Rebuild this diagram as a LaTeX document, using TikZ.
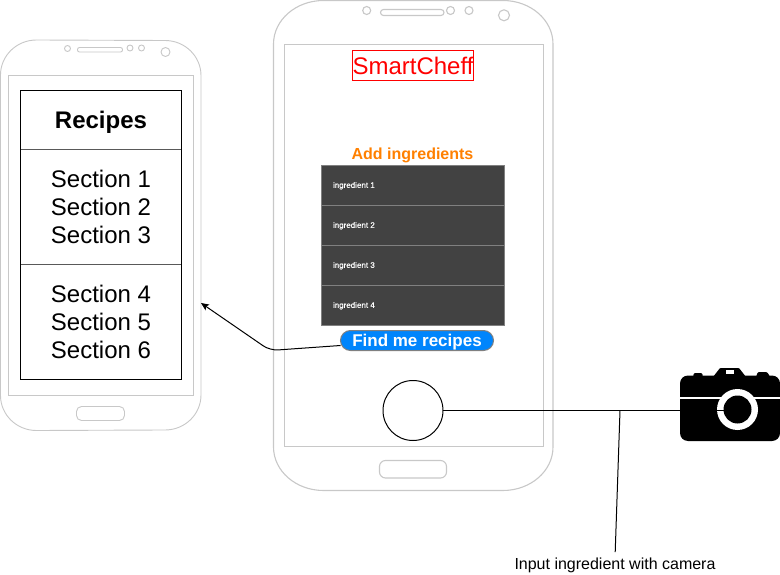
\documentclass[tikz,border=0pt]{standalone}
\usepackage{fontspec}
\setmainfont{Liberation Sans}
\newfontfamily\itemfont[FakeBold=0.6]{Liberation Sans}
\usetikzlibrary{arrows.meta}
\definecolor{phonegray}{HTML}{C8C8C8}
\definecolor{listdark}{HTML}{424242}
\definecolor{listline}{HTML}{808080}
\definecolor{btnblue}{HTML}{0085FC}
\definecolor{addorange}{HTML}{FF8000}
\tikzset{
  x=1pt,y=-1pt,
  phone/.style={draw=phonegray,line width=1.1pt,fill=white},
  phonethin/.style={draw=phonegray,line width=.9pt,fill=white},
  plain/.style={inner sep=0pt,outer sep=0pt,anchor=center},
  box/.style={plain,draw,rectangle},
  itemrow/.style={plain,rectangle,draw=listline,fill=listdark,minimum width=183pt,minimum height=40pt,line width=1pt},
  itemtext/.style={plain,anchor=west,text=white,font=\itemfont\fontsize{8}{8}\selectfont},
  section/.style={plain,align=center,font=\fontsize{24}{28}\selectfont},
  wire/.style={draw=black,line width=1pt},
}
\begin{document}
\begin{tikzpicture}
\useasboundingbox (0,0) rectangle (780,575);
% large phone
\path[phone] (273.5,44) arc[start angle=180,end angle=270,x radius=50,y radius=43.5] -- (503,0.5)
  arc[start angle=270,end angle=360,x radius=50,y radius=43.5] -- (553,447)
  arc[start angle=0,end angle=90,x radius=50,y radius=43.5] -- (323.5,490.5)
  arc[start angle=90,end angle=180,x radius=50,y radius=43.5] -- cycle;
\path[phone] (284.5,44.5) rectangle (543.5,446.5);
\path[phone,rounded corners=3pt] (380.5,9.5) rectangle (444,15.5);
\path[phone] (366.7,10.5) circle[radius=4] (450.5,10.5) circle[radius=4] (469,10.5) circle[radius=4] (504,15.3) circle[radius=5.5];
\path[phone,rounded corners=6pt] (379.5,460.5) rectangle (446.5,478);
% small phone
\path[phonethin] (0.5,75) arc[start angle=180,end angle=270,x radius=36,y radius=35] -- (165,40.5)
  arc[start angle=270,end angle=360,x radius=36,y radius=35] -- (201,395)
  arc[start angle=0,end angle=90,x radius=36,y radius=35] -- (36.5,430.5)
  arc[start angle=90,end angle=180,x radius=36,y radius=35] -- cycle;
\path[phonethin] (8.5,75.5) rectangle (193.5,395.5);
\path[phonethin,rounded corners=2pt] (77.5,47.5) rectangle (122.5,52);
\path[phonethin] (67.5,48.5) circle[radius=3] (130,48) circle[radius=3] (141.5,48) circle[radius=3] (165.5,52) circle[radius=4.5];
\path[phonethin,rounded corners=5pt] (76.5,406.5) rectangle (124.5,420.5);
% recipes table
\node[box,draw=black!65,minimum width=161pt,minimum height=59pt,line width=.8pt,text height=22pt,text depth=5pt,font=\fontsize{24}{28}\selectfont\bfseries] (recipes) at (101,120) {Recipes};
\node[box,draw=black!65,minimum width=161pt,minimum height=115pt,line width=.8pt,section] (secA) at (101,207) {Section 1\\Section 2\\Section 3};
\node[box,draw=black!65,minimum width=161pt,minimum height=115pt,line width=.8pt,section] (secB) at (101,322) {Section 4\\Section 5\\Section 6};
\draw[line width=1pt] (20.5,90.5) rectangle (181.5,379.5);
% title and list
\node[box,draw=red,text=red,line width=1pt,minimum width=121pt,minimum height=29.5pt,font=\fontsize{24}{28}\selectfont] (title) at (413,65.7) {SmartCheff};
\node[plain,text=addorange,font=\fontsize{16}{18}\selectfont\bfseries] (add) at (412.5,155) {Add ingredients};
\node[itemrow] (rowa) at (413,185.5) {};
\node[itemrow] (rowb) at (413,225.5) {};
\node[itemrow] (rowc) at (413,265.5) {};
\node[itemrow] (rowd) at (413,305.5) {};
\node[itemtext] (ta) at (333,185.8) {ingredient 1};
\node[itemtext] (tb) at (333,225.8) {ingredient 2};
\node[itemtext] (tc) at (333,265.8) {ingredient 3};
\node[itemtext] (td) at (333,305.8) {ingredient 4};
\node[plain,draw=listline,fill=btnblue,rounded corners=10pt,line width=1pt,minimum width=153pt,minimum height=20pt,text height=15pt,text depth=3.6pt,text=white,font=\fontsize{17}{18}\selectfont\bfseries] (find) at (417,340.5) {Find me recipes};
\node[plain,circle,draw=black,fill=white,line width=1pt,minimum size=60pt] (home) at (413,410.5) {};
% camera
\fill[black,rounded corners=1pt] (693,376.5) -- (694,373) -- (702,373) -- (703,376.5) -- cycle;
\fill[black,rounded corners=1pt] (756,376.5) -- (758,372) -- (767,372) -- (770,376.5) -- cycle;
\fill[black,rounded corners=1pt] (713,377) -- (720,368) -- (739,368) -- (746,377) -- cycle;
\fill[white] (726,370) rectangle (734,373.5);
\fill[black,rounded corners=8pt] (680,375.5) rectangle (780,441);
\fill[white] (680,397.3) rectangle (780,399);
\fill[white] (737.5,409.5) circle[radius=20.5];
\fill[black] (737.5,409.5) circle[radius=14];
\coordinate (lens) at (725,410.5);
\coordinate (bend) at (620,410.5);
\coordinate (phoneedge) at (201,303);
\coordinate (elbow) at (270,350.5);
% connectors
\draw[wire] (home.east) -- (lens);
\node[plain,font=\fontsize{16}{18}\selectfont] (caption) at (615,565.5) {Input ingredient with camera};
\draw[wire,shorten >=6pt] (bend) -- (caption.north);
\draw[wire,-{Stealth[length=8pt,width=7pt,inset=2pt]},rounded corners=8pt] ([yshift=-5pt]find.west) -- (elbow) -- (phoneedge);
\end{tikzpicture}
\end{document}
